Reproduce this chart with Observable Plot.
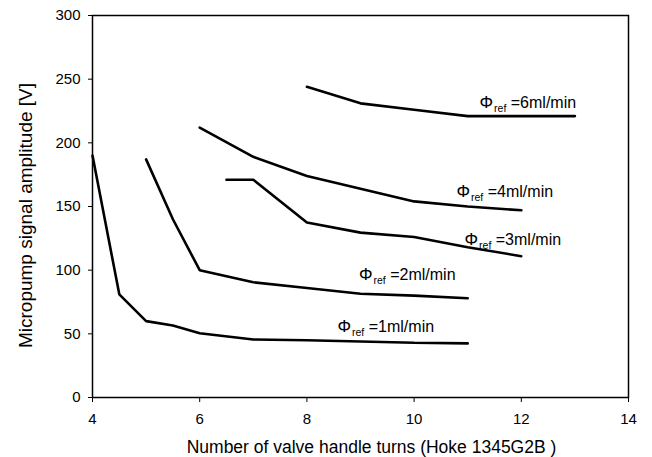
<!DOCTYPE html>
<html><head><meta charset="utf-8">
<script src="https://cdn.jsdelivr.net/npm/d3@7"></script>
<script src="https://cdn.jsdelivr.net/npm/@observablehq/plot@0.6"></script>
<style>
body{margin:0;background:#fff;}
svg{font-family:"Liberation Sans",Arial,sans-serif;}
</style>
</head><body><div id="chart"></div>
<script>
// Series data
const seriesNames = ["1ml/min","2ml/min","3ml/min","4ml/min","6ml/min"];
const turns1 = [4, 4.5, 5, 5.5, 6, 7, 8, 9, 10, 11];
const amp1   = [190, 81, 60, 56.5, 50.5, 45.5, 45, 44, 43, 42.5];
const turns2 = [5, 5.5, 6, 7, 8, 9, 10, 11];
const amp2   = [187, 140, 100, 90.5, 86, 81.5, 80, 78];
const turns3 = [6.5, 7, 8, 9, 10, 11, 12];
const amp3   = [171, 171, 137.5, 129.5, 126, 118, 111];
const turns4 = [6, 7, 8, 9, 10, 11, 12];
const amp4   = [212, 189, 174, 164, 154, 150, 147];
const turns6 = [8, 9, 10, 11, 12, 13];
const amp6   = [244, 231, 226, 221, 221, 221];
// label anchors (data coordinates)
const labelTurns = [8.57, 8.97, 10.94, 10.79, 11.22];
const labelAmp   = [51.8, 91.9, 119.4, 157.1, 227.0];
const xTicks = [4, 6, 8, 10, 12, 14];
const yTicks = [0, 50, 100, 150, 200, 250, 300];
const xTitle = "Number of valve handle turns (Hoke 1345G2B )";
const yTitle = "Micropump signal amplitude [V]";

const allX = [turns1, turns2, turns3, turns4, turns6];
const allY = [amp1, amp2, amp3, amp4, amp6];
const rows = [];
seriesNames.forEach((s, i) => allX[i].forEach((x, j) => rows.push({series: s, x, y: allY[i][j]})));
const labels = seriesNames.map((s, i) => ({series: s, x: labelTurns[i], y: labelAmp[i]}));

const chart = Plot.plot({
  width: 652, height: 457,
  marginLeft: 92, marginRight: 24, marginTop: 15, marginBottom: 60,
  style: {fontSize: "15px", fontFamily: "'Liberation Sans', Arial, sans-serif", color: "black", background: "white"},
  x: {domain: [4, 14], ticks: xTicks, tickSize: 5, tickPadding: 11,
      label: xTitle, labelAnchor: "center", labelArrow: "none", labelOffset: 55},
  y: {domain: [0, 300], ticks: yTicks, tickSize: 4, tickPadding: 8,
      label: yTitle, labelAnchor: "center", labelArrow: "none", labelOffset: 74},
  marks: [
    Plot.frame({stroke: "black", strokeWidth: 1.5}),
    Plot.line(rows, {x: "x", y: "y", z: "series", stroke: "black", strokeWidth: 2.6, strokeLinejoin: "miter"}),
    Plot.text(labels, {x: "x", y: "y", text: d => "Φref =" + d.series, textAnchor: "start", lineAnchor: "bottom", fill: "black", fontSize: 16})
  ]
});
document.getElementById("chart").appendChild(chart);

const svg = d3.select(chart);
svg.selectAll('g[aria-label="text"] text').each(function() {
  const sel = d3.select(this);
  const rest = this.textContent.replace("Φref ", "");
  sel.text(null);
  sel.append("tspan").attr("font-size", 17).text("Φ");
  sel.append("tspan").attr("font-size", 10.5).attr("dy", 4).attr("dx", 1).text("ref");
  sel.append("tspan").attr("dy", -4).text(" " + rest);
});
svg.selectAll('g[aria-label="x-axis label"] text').attr("font-size", 17.5).attr("dx", 11);
svg.selectAll('g[aria-label="y-axis label"] text').attr("font-size", 19).each(function() {
  this.setAttribute("transform", "translate(0,9) " + (this.getAttribute("transform") || ""));
});
</script>
</body></html>
